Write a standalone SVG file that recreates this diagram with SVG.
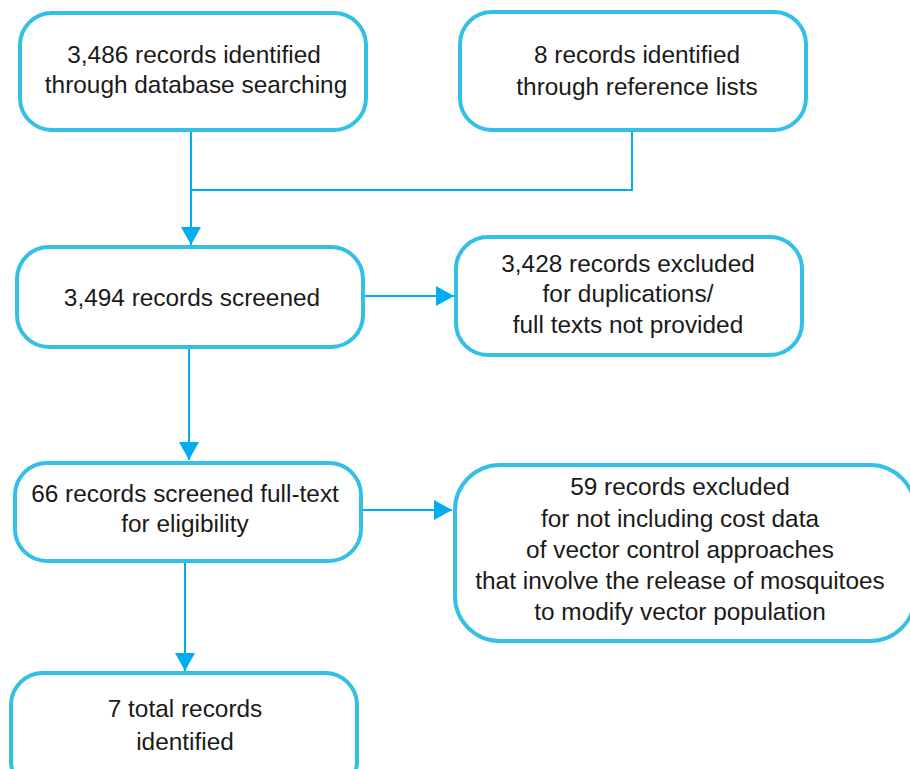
<svg xmlns="http://www.w3.org/2000/svg" width="910" height="769" viewBox="0 0 910 769">
<style>
.box{fill:#ffffff;stroke:#33c0e6;stroke-width:4}
.lbl{font-family:"Liberation Sans",Arial,sans-serif;font-size:24.4px;fill:#1a1a1a;text-anchor:middle}
.con{fill:none;stroke:#00aeef;stroke-width:2}
</style>
<defs>
<marker id="arr" markerUnits="userSpaceOnUse" markerWidth="20" markerHeight="20" viewBox="0 0 18 20" refX="18" refY="10" orient="auto">
<path d="M0,0 L18,10 L0,20 Z" fill="#00aeef"/>
</marker>
</defs>
<rect width="910" height="769" fill="#ffffff"/>
<g id="connectors">
<path class="con" d="M191,131 V245" marker-end="url(#arr)"/>
<path class="con" d="M632,131 V190 H191"/>
<path class="con" d="M365,296 H454" marker-end="url(#arr)"/>
<path class="con" d="M189,348 V460" marker-end="url(#arr)"/>
<path class="con" d="M362,510 H452" marker-end="url(#arr)"/>
<path class="con" d="M185,562 V671" marker-end="url(#arr)"/>
</g>
<g id="n1">
<rect class="box" x="20" y="13" width="346" height="117" rx="32"/>
<text class="lbl" x="194" y="63">3,486 records identified</text>
<text class="lbl" x="196" y="93">through database searching</text>
</g>
<g id="n2">
<rect class="box" x="460" y="12" width="346" height="118" rx="32"/>
<text class="lbl" x="637" y="63">8 records identified</text>
<text class="lbl" x="637" y="95">through reference lists</text>
</g>
<g id="n3">
<rect class="box" x="17" y="247" width="346" height="100" rx="32"/>
<text class="lbl" x="192" y="306">3,494 records screened</text>
</g>
<g id="n4">
<rect class="box" x="456" y="237" width="346" height="118" rx="32"/>
<text class="lbl" x="628" y="272">3,428 records excluded</text>
<text class="lbl" x="628" y="302">for duplications/</text>
<text class="lbl" x="628" y="333">full texts not provided</text>
</g>
<g id="n5">
<rect class="box" x="15" y="463" width="346" height="98" rx="32"/>
<text class="lbl" x="185" y="502">66 records screened full-text</text>
<text class="lbl" x="185" y="532">for eligibility</text>
</g>
<g id="n6">
<rect class="box" x="455" y="465" width="460" height="176" rx="45"/>
<text class="lbl" x="680" y="495">59 records excluded</text>
<text class="lbl" x="680" y="527">for not including cost data</text>
<text class="lbl" x="680" y="558">of vector control approaches</text>
<text class="lbl" x="680" y="589">that involve the release of mosquitoes</text>
<text class="lbl" x="680" y="620">to modify vector population</text>
</g>
<g id="n7">
<rect class="box" x="11" y="673" width="346" height="120" rx="32"/>
<text class="lbl" x="185" y="717">7 total records</text>
<text class="lbl" x="185" y="750">identified</text>
</g>
</svg>
